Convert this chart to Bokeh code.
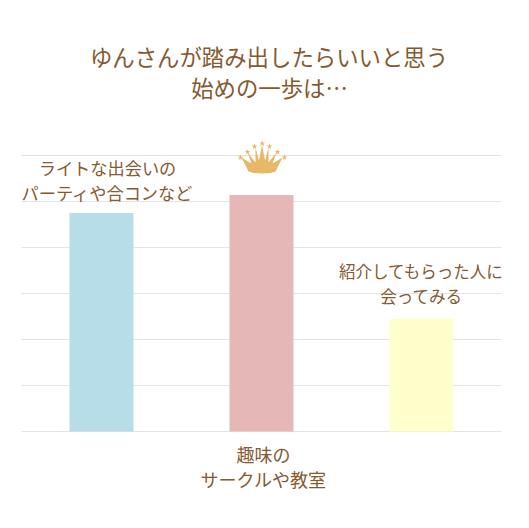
from bokeh.plotting import figure
from bokeh.models import Label, Range1d
from bokeh.embed import file_html
from bokeh.resources import INLINE

categories = ["ライトな出会いの\nパーティや合コンなど", "趣味の\nサークルや教室", "紹介してもらった人に\n会ってみる"]
values = [4.75, 5.14, 2.45]
colors = ["#b7dde8", "#e5b8b7", "#ffffcc"]
grid_ticks = [0, 1, 2, 3, 4, 5, 6]
title_lines = ["ゆんさんが踏み出したらいいと思う", "始めの一歩は…"]

FONT = "Noto Sans CJK JP"
TEXT = "#855a30"
PX_Y = 46.0   # pixels per value unit
PX_X = 160.0  # pixels per category
X0, Y0 = 21, 431  # page position of the plot origin

W, H = 520, 520


def py(y):
    """page pixel row -> value"""
    return (Y0 - y) / PX_Y


def px(x):
    """page pixel column -> category position"""
    return (x - X0) / PX_X


p = figure(width=W, height=H, output_backend="svg", toolbar_location=None,
           x_range=Range1d(px(0), px(W)), y_range=Range1d(py(H), py(0)),
           min_border=0, outline_line_color=None,
           background_fill_color="white", border_fill_color="white")
p.xaxis.visible = False
p.yaxis.visible = False
p.xgrid.visible = False
p.ygrid.visible = False

n = len(categories)
p.segment(x0=[0] * len(grid_ticks), x1=[n] * len(grid_ticks), y0=grid_ticks, y1=grid_ticks,
          line_color="#e4e4e4", line_width=1)

centers = [i + 0.5 for i in range(n)]
p.vbar(x=centers, top=values, bottom=0, width=0.4, fill_color=colors, line_color=None)


def put(text, x, y, size):
    p.add_layout(Label(x=px(x), y=py(y), text=text, text_font=FONT, text_font_size=size,
                       text_color=TEXT, text_align="center", text_baseline="middle"))


# title
put(title_lines[0], 268.5, 55, "22.4px")
put(title_lines[1], 269, 86, "22.4px")

# category labels
label_pos = [[(107, 167), (107, 192)], [(263, 453), (263, 478)], [(421, 270), (421, 295)]]
label_size = ["17.2px", "18px", "16.5px"]
for cat, pos, size in zip(categories, label_pos, label_size):
    for line, (x, y) in zip(cat.split("\n"), pos):
        put(line, x, y, size)

# crown
gold = "#e7b868"
cx = [248, 241, 251, 247, 255, 255, 258.5, 261.5, 264.5, 268, 268, 276, 272, 282, 275,
      270, 261.5, 253]
cy = [171, 157, 163, 152, 162, 147, 160, 144, 160, 147, 162, 152, 163, 157, 171,
      172.5, 173, 172.5]
p.patch([px(v) for v in cx], [py(v) for v in cy], fill_color=gold, line_color=None)
sx = [240, 247, 254, 261.7, 269, 277, 284]
sy = [157, 151.5, 146, 143, 146, 151.5, 157]
p.scatter([px(v) for v in sx], [py(v) for v in sy], marker="star", size=6,
          fill_color=gold, line_color=None)

open("out.html", "w").write(file_html(p, INLINE))
